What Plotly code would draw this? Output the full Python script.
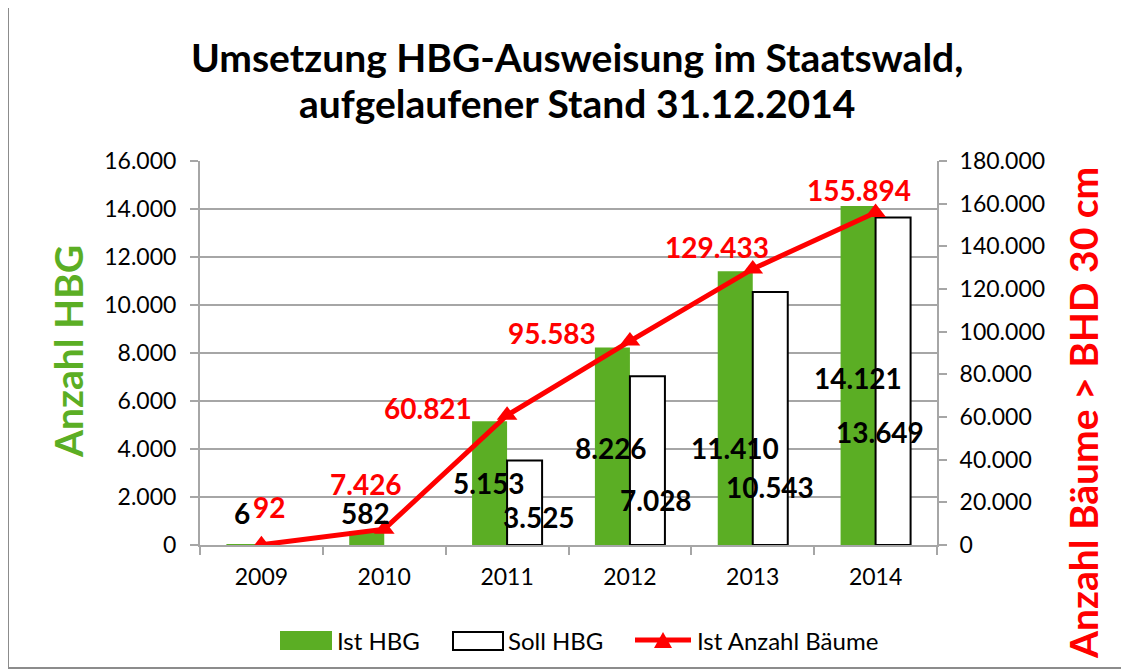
import plotly.graph_objects as go

years = ["2009", "2010", "2011", "2012", "2013", "2014"]
ist_hbg = [6, 582, 5153, 8226, 11410, 14121]
soll_hbg = [None, None, 3525, 7028, 10543, 13649]
ist_baeume = [92, 7426, 60821, 95583, 129433, 155894]

ist_labels = ["6", "582", "5.153", "8.226", "11.410", "14.121"]
soll_labels = [None, None, "3.525", "7.028", "10.543", "13.649"]
baeume_labels = ["92", "7.426", "60.821", "95.583", "129.433", "155.894"]

series_names = ["Ist HBG", "Soll HBG", "Ist Anzahl Bäume"]

# label pixel offsets (dx right, dy down) relative to the data point
ist_off = [(-19, -32), (-19, -18), (-18, 62), (-19, 100), (-18, 177), (-18, 172)]
soll_off = [None, None, (32, 57), (26, 124), (17, 195), (4, 215)]
baeume_off = [(8, -38), (-18, -45), (-79, -7), (-78, -8), (-36, -22), (-17, -22)]

GREEN = "#5BAE24"
RED = "#FF0000"
GRID = "#A6A6A6"
FONT = "Lato, sans-serif"

# plot-area geometry (pixels in the reference) used for paper-coordinate decor
PL, PR, PT, PB = 200, 937, 161, 545
PW, PH = PR - PL, PB - PT


def px(x):
    return (x - PL) / PW


def py(y):
    return (PB - y) / PH


fig = go.Figure()
fig.add_trace(go.Bar(x=years, y=ist_hbg, name=series_names[0], showlegend=False,
                     marker=dict(color=GREEN, line=dict(width=0))))
fig.add_trace(go.Bar(x=years, y=soll_hbg, name=series_names[1], showlegend=False,
                     marker=dict(color="white", line=dict(color="black", width=2))))
fig.add_trace(go.Scatter(x=years, y=ist_baeume, name=series_names[2], yaxis="y2",
                         mode="lines+markers", showlegend=False,
                         line=dict(color=RED, width=5),
                         marker=dict(symbol="triangle-up", size=18, color=RED)))

LBL = 28
ann = []
for i, yr in enumerate(years):
    dx, dy = ist_off[i]
    ann.append(dict(x=i, y=ist_hbg[i], xref="x", yref="y", text=ist_labels[i],
                    showarrow=False, xshift=dx, yshift=-dy,
                    font=dict(family=FONT, size=LBL, color="black", weight="bold")))
    if soll_labels[i]:
        dx, dy = soll_off[i]
        ann.append(dict(x=i, y=soll_hbg[i], xref="x", yref="y", text=soll_labels[i],
                        showarrow=False, xshift=dx, yshift=-dy,
                        font=dict(family=FONT, size=LBL, color="black", weight="bold")))
    dx, dy = baeume_off[i]
    ann.append(dict(x=i, y=ist_baeume[i], xref="x", yref="y2", text=baeume_labels[i],
                    showarrow=False, xshift=dx, yshift=-dy,
                    font=dict(family=FONT, size=LBL, color=RED, weight="bold")))

ann.append(dict(x=px(68), y=py(352), xref="paper", yref="paper", text="Anzahl HBG",
                textangle=-90, showarrow=False, xanchor="center", yanchor="middle",
                font=dict(family=FONT, size=39, color=GREEN, weight="bold")))
ann.append(dict(x=px(1083), y=py(413), xref="paper", yref="paper",
                text="Anzahl Bäume > BHD 30 cm", textangle=-90, showarrow=False,
                xanchor="center", yanchor="middle",
                font=dict(family=FONT, size=39, color=RED, weight="bold")))
ann.append(dict(x=px(577), y=py(57), xref="paper", yref="paper",
                text="Umsetzung HBG-Ausweisung im Staatswald,", showarrow=False,
                xanchor="center", yanchor="middle",
                font=dict(family=FONT, size=39, color="black", weight="bold")))
ann.append(dict(x=px(577), y=py(103), xref="paper", yref="paper",
                text="aufgelaufener Stand 31.12.2014", showarrow=False,
                xanchor="center", yanchor="middle",
                font=dict(family=FONT, size=39, color="black", weight="bold")))

# custom legend
LEG_Y = 640
legend_text_x = [335, 506, 695]
for name, lx in zip(series_names, legend_text_x):
    ann.append(dict(x=px(lx), y=py(LEG_Y), xref="paper", yref="paper", text=name,
                    xanchor="left", yanchor="middle", showarrow=False,
                    font=dict(family=FONT, size=24, color="black")))

shapes = [
    dict(type="rect", xref="paper", yref="paper",
         x0=px(8), x1=px(1140), y0=py(668), y1=py(3),
         line=dict(color="#8C8C8C", width=2), fillcolor="rgba(0,0,0,0)", layer="below"),
    dict(type="rect", xref="paper", yref="paper",
         x0=px(280), x1=px(332), y0=py(650), y1=py(631),
         line=dict(width=0), fillcolor=GREEN),
    dict(type="rect", xref="paper", yref="paper",
         x0=px(453), x1=px(503), y0=py(650), y1=py(632),
         line=dict(color="black", width=2), fillcolor="white"),
    dict(type="line", xref="paper", yref="paper",
         x0=px(635), x1=px(691), y0=py(LEG_Y), y1=py(LEG_Y),
         line=dict(color=RED, width=5)),
    dict(type="path", xref="paper", yref="paper",
         path=f"M {px(654)},{py(648)} L {px(672)},{py(648)} L {px(663)},{py(632)} Z",
         line=dict(width=0), fillcolor=RED),
]

fig.update_layout(
    width=1129, height=672,
    margin=dict(l=PL - 8, r=1129 - (PR - 8), t=PT - 8, b=672 - (PB - 8)),
    paper_bgcolor="white", plot_bgcolor="white",
    separators=",.",
    font=dict(family=FONT, size=23, color="black"),
    barmode="group", bargap=0.43, bargroupgap=0,
    showlegend=False,
    xaxis=dict(type="category", categoryorder="array", categoryarray=years,
               range=[-0.5, 5.5], showline=True, linecolor=GRID, linewidth=2,
               ticks="outside", tickson="boundaries", ticklen=8, tickcolor=GRID,
               tickwidth=2, showgrid=False, tickangle=0, ticklabelstandoff=10,
               tickfont=dict(family=FONT, size=23)),
    yaxis=dict(range=[0, 16000], dtick=2000, tickformat=",d", showgrid=True,
               gridcolor=GRID, gridwidth=2, showline=True, linecolor=GRID, linewidth=2,
               ticks="outside", ticklen=8, tickcolor=GRID, tickwidth=2, zeroline=False,
               ticklabelstandoff=9, tickfont=dict(family=FONT, size=23)),
    yaxis2=dict(range=[0, 180000], dtick=20000, tickformat=",d", overlaying="y",
                side="right", showgrid=False, showline=True, linecolor=GRID, linewidth=2,
                ticks="outside", ticklen=8, tickcolor=GRID, tickwidth=2, zeroline=False,
                ticklabelstandoff=8, tickfont=dict(family=FONT, size=23)),
    annotations=ann,
    shapes=shapes,
)

fig.write_html("out.html")
